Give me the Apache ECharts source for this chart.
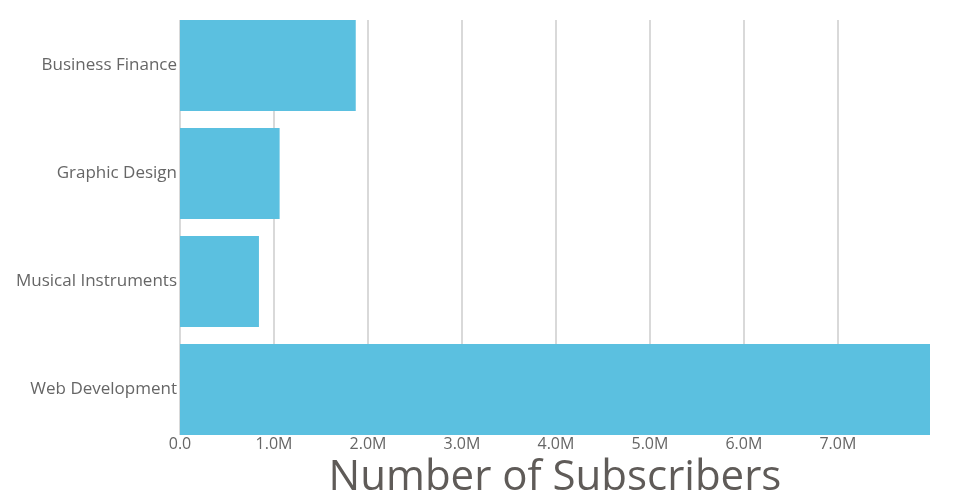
<!DOCTYPE html>
<html><head><meta charset="utf-8">
<script src="https://cdn.jsdelivr.net/npm/echarts@6/dist/echarts.min.js"></script>
<style>html,body{margin:0;padding:0;background:#fff}#c{width:960px;height:500px}</style>
</head><body><div id="c"></div>
<script>
const categories = ["Business Finance", "Graphic Design", "Musical Instruments", "Web Development"];
const subscribers = [1870000, 1060000, 840000, 7980000];
const axisTitle = "Number of Subscribers";

const chart = echarts.init(document.getElementById('c'));
const font = "'Open Sans', sans-serif";
const xMax = Math.max(...subscribers);
chart.setOption({
  animation: false,
  grid: [
    {left: 180, right: 30, top: 11.5, bottom: 56.5, outerBoundsMode: 'none'},
    {left: 180, right: 30, top: 20, bottom: 65, outerBoundsMode: 'none'}
  ],
  xAxis: [{
    gridIndex: 0, type: 'value', min: 0, max: xMax, interval: 1000000,
    axisLine: {show: false}, axisTick: {show: false}, axisLabel: {show: false},
    splitLine: {show: false}
  }, {
    gridIndex: 1, type: 'value', min: 0, max: xMax, interval: 1000000,
    name: axisTitle, nameLocation: 'middle', nameGap: 14,
    nameTextStyle: {fontSize: 42, color: '#5f5b58', fontFamily: font},
    axisLine: {show: false}, axisTick: {show: false},
    splitLine: {show: true, showMaxLine: false, lineStyle: {color: '#d9d9d9', width: 2}},
    axisLabel: {fontSize: 16, color: '#666', fontFamily: font, margin: 1,
      formatter: v => v === 0 ? '0.0' : (v / 1e6).toFixed(1) + 'M',
      showMaxLabel: false}
  }],
  yAxis: [{
    gridIndex: 0, type: 'category', data: categories, inverse: true,
    axisLine: {show: false}, axisTick: {show: false},
    axisLabel: {fontSize: 17, color: '#666', fontFamily: font, margin: 3}
  }, {
    gridIndex: 1, type: 'value', show: false
  }],
  series: [{type: 'bar', xAxisIndex: 0, yAxisIndex: 0, data: subscribers, barCategoryGap: '15.7%',
    z: 5, itemStyle: {color: '#5bc0e0'}}]
});
</script></body></html>
